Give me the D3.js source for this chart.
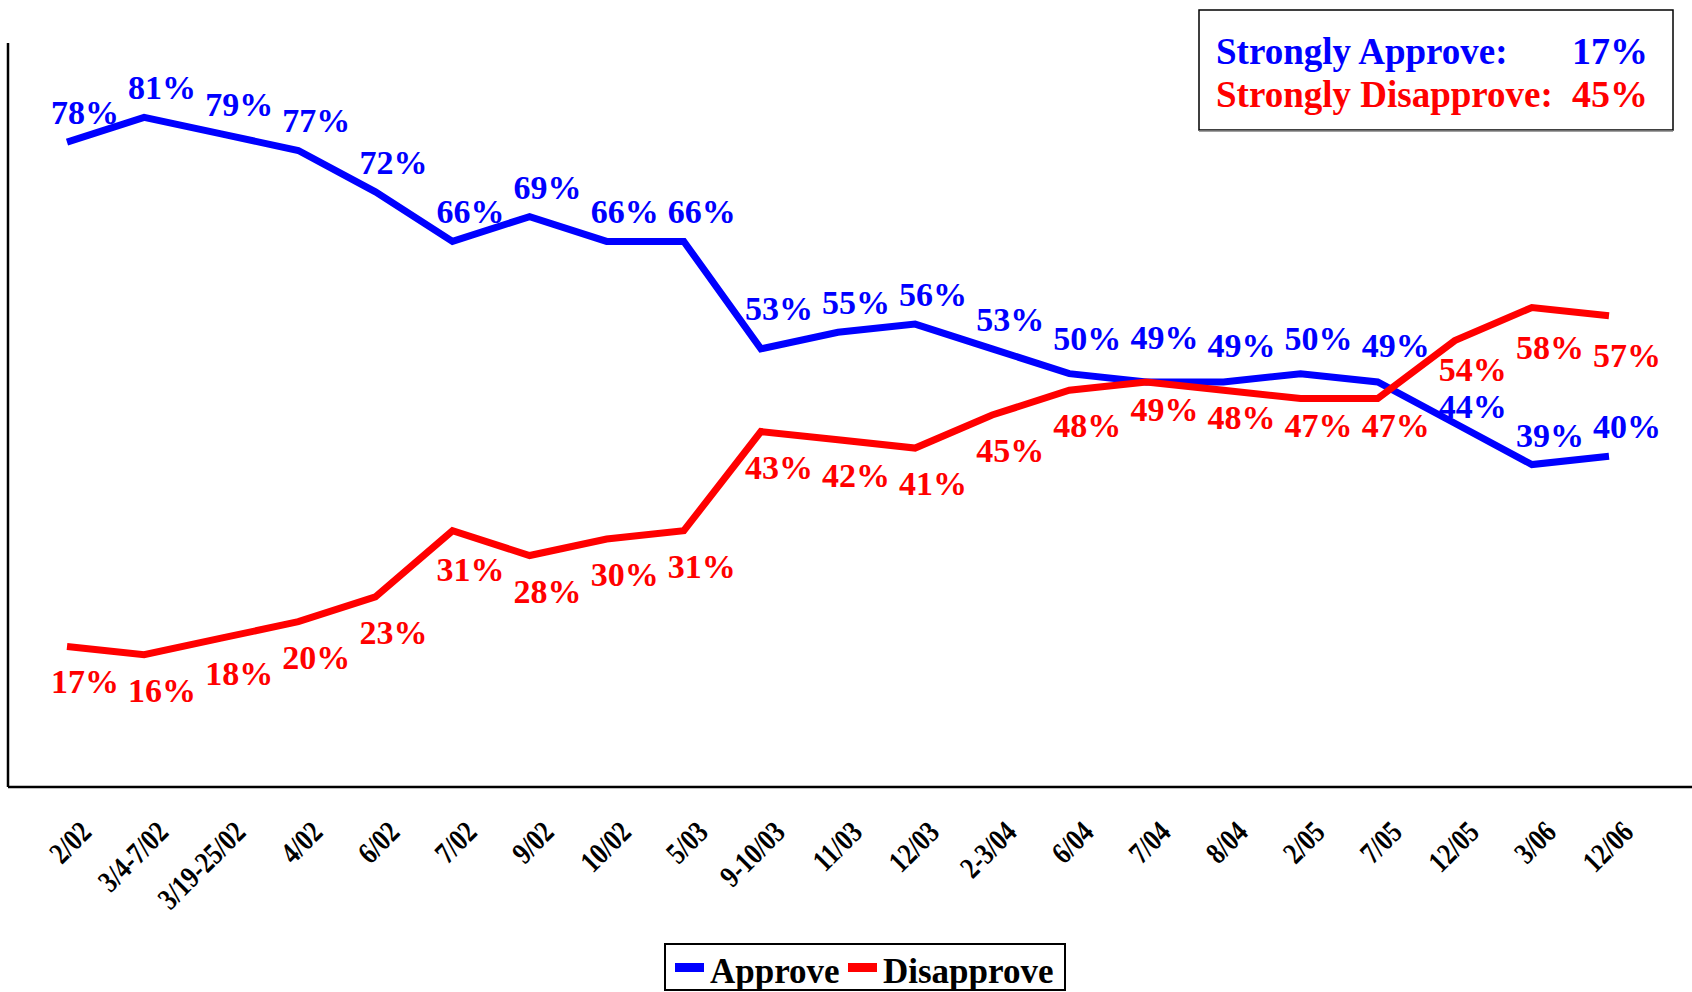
<!DOCTYPE html>
<html>
<head>
<meta charset="utf-8">
<script src="https://cdn.jsdelivr.net/npm/d3@7"></script>
<style>
  html, body { margin: 0; padding: 0; background: #fff; }
  svg { display: block; }
  text { font-family: "Liberation Serif", "Times New Roman", serif; font-weight: bold; }
</style>
</head>
<body>
<svg id="chart" width="1692" height="992"></svg>
<script>
const categories = ["2/02","3/4-7/02","3/19-25/02","4/02","6/02","7/02","9/02","10/02","5/03","9-10/03","11/03","12/03","2-3/04","6/04","7/04","8/04","2/05","7/05","12/05","3/06","12/06"];
const approve    = [78,81,79,77,72,66,69,66,66,53,55,56,53,50,49,49,50,49,44,39,40];
const disapprove = [17,16,18,20,23,31,28,30,31,43,42,41,45,48,49,48,47,47,54,58,57];
const seriesNames = ["Approve","Disapprove"];
const boxLabels = ["Strongly Approve:","Strongly Disapprove:"];
const boxValues = ["17%","45%"];

const W = 1692, H = 992;
const BLUE = "#0000FF", RED = "#FF0000";
const svg = d3.select("#chart");

const x = d3.scalePoint().domain(categories).range([67, 1609]);
const y = d3.scaleLinear().domain([0, 90]).range([787, 43]);

// axes (no ticks)
const xAxis = d3.axisBottom(x).tickSize(0).tickFormat("");
svg.append("g").attr("transform", "translate(0,787)").call(xAxis)
  .call(g => g.select(".domain").remove());
svg.append("line").attr("x1", 8).attr("x2", W).attr("y1", 787).attr("y2", 787)
  .attr("stroke", "#000").attr("stroke-width", 2.5);
svg.append("line").attr("x1", 8).attr("x2", 8).attr("y1", 43).attr("y2", 787)
  .attr("stroke", "#000").attr("stroke-width", 2.5);

// x labels rotated
svg.append("g").selectAll("text").data(categories).join("text")
  .attr("transform", d => `translate(${x(d) + 26},834) rotate(-45) scale(0.92,1.13)`)
  .attr("text-anchor", "end")
  .attr("font-size", 27)
  .attr("fill", "#000")
  .text(d => d);

// lines
const line = d3.line().x((d, i) => x(categories[i])).y(d => y(d));
svg.append("path").datum(approve).attr("d", line)
  .attr("fill", "none").attr("stroke", BLUE).attr("stroke-width", 7).attr("stroke-linejoin", "miter");
svg.append("path").datum(disapprove).attr("d", line)
  .attr("fill", "none").attr("stroke", RED).attr("stroke-width", 7).attr("stroke-linejoin", "miter");

// data labels (approve above, disapprove below, with a few manual nudges)
const approveNudge = {9: -11, 13: -6, 14: -15, 15: -7, 16: -6, 17: -7, 18: 13};
const disNudge = {5: 3, 14: -8, 15: -8, 16: -8, 17: -8, 18: -7, 19: 4, 20: 4};

svg.append("g").selectAll("text").data(approve).join("text")
  .attr("x", (d, i) => x(categories[i]) + 18)
  .attr("y", (d, i) => y(d) - 18 + (approveNudge[i] || 0))
  .attr("text-anchor", "middle")
  .attr("font-size", 34)
  .attr("fill", BLUE)
  .text(d => d + "%");

svg.append("g").selectAll("text").data(disapprove).join("text")
  .attr("x", (d, i) => x(categories[i]) + 18)
  .attr("y", (d, i) => y(d) + 47 + (disNudge[i] || 0))
  .attr("text-anchor", "middle")
  .attr("font-size", 34)
  .attr("fill", RED)
  .text(d => d + "%");

// top-right box
const box = svg.append("g");
box.append("rect").attr("x", 1199).attr("y", 10).attr("width", 474).attr("height", 120)
  .attr("fill", "#fff").attr("stroke", "#000").attr("stroke-width", 1.5);
box.append("line").attr("x1", 1199).attr("x2", 1673).attr("y1", 131).attr("y2", 131)
  .attr("stroke", "#808080").attr("stroke-width", 1.5);
[BLUE, RED].forEach((c, i) => {
  box.append("text").attr("x", 1216).attr("y", 64 + i * 43)
    .attr("font-size", 37).attr("fill", c).text(boxLabels[i]);
  box.append("text").attr("x", 1648).attr("y", 64 + i * 43)
    .attr("text-anchor", "end").attr("font-size", 38).attr("fill", c).text(boxValues[i]);
});

// bottom legend
const leg = svg.append("g");
leg.append("rect").attr("x", 665).attr("y", 944).attr("width", 400).attr("height", 46)
  .attr("fill", "#fff").attr("stroke", "#000").attr("stroke-width", 2);
const legItems = [{name: seriesNames[0], c: BLUE, x: 675}, {name: seriesNames[1], c: RED, x: 848}];
legItems.forEach(it => {
  leg.append("rect").attr("x", it.x).attr("y", 963).attr("width", 29).attr("height", 9).attr("fill", it.c);
  leg.append("text").attr("x", it.x + 35).attr("y", 983).attr("font-size", 35).attr("fill", "#000").text(it.name);
});
</script>
</body>
</html>
